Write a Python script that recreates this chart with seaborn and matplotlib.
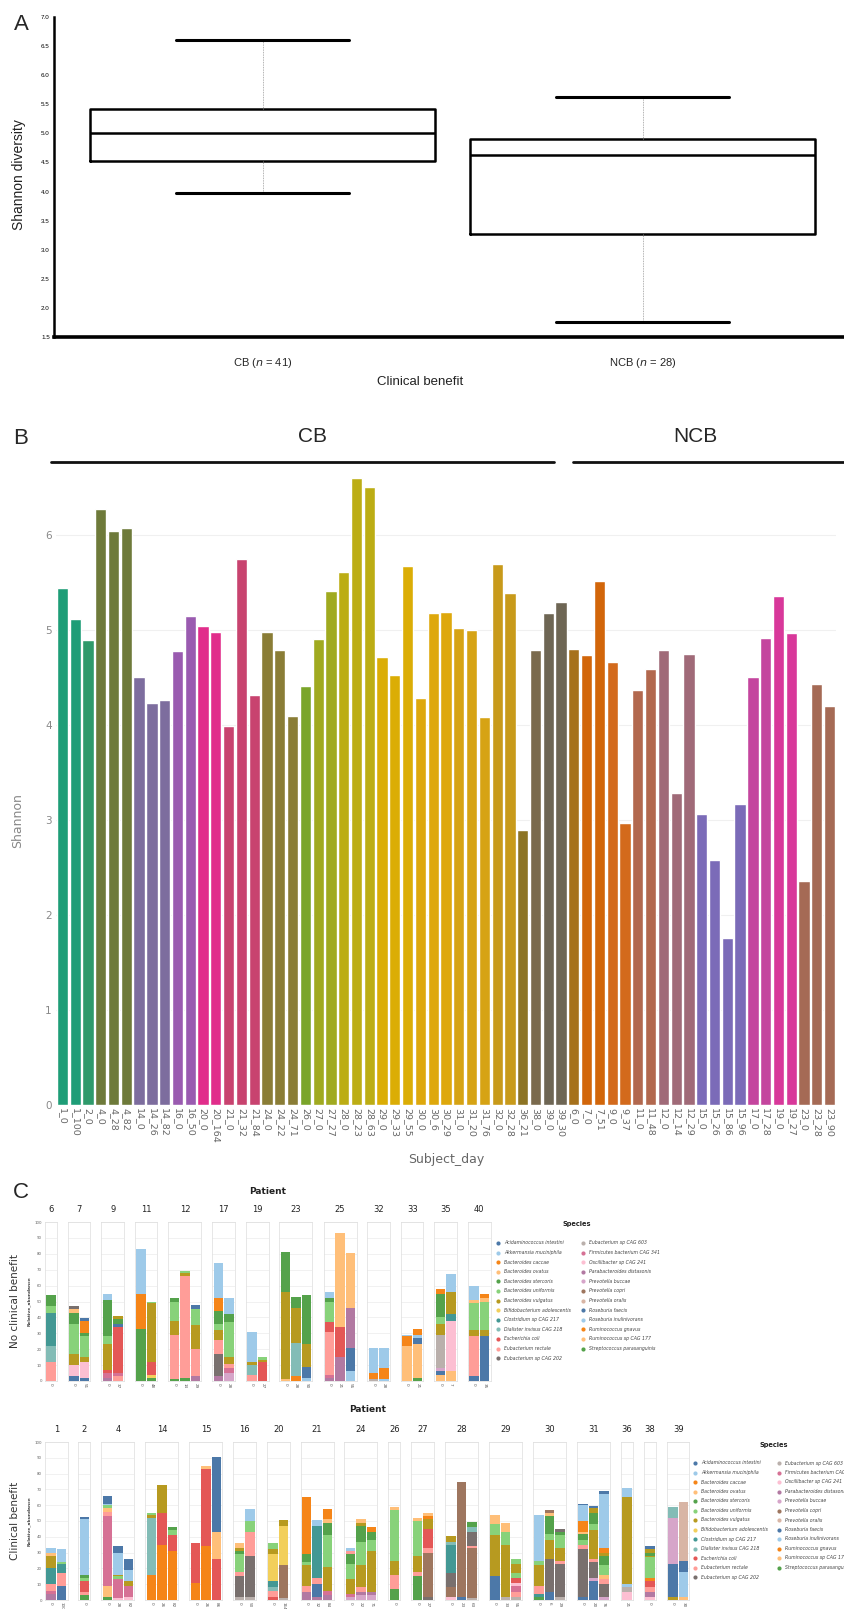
import matplotlib
matplotlib.use('Agg')
import matplotlib.pyplot as plt
import seaborn as sns
import numpy as np
import pandas as pd
from matplotlib.lines import Line2D

# ---------------- DATA ----------------
# Panel A: five-number summaries (min, Q1, median, Q3, max)
box_labels = ['CB ($\\it{n}$ = 41)', 'NCB ($\\it{n}$ = 28)']
cb_stats = [3.98, 4.53, 5.01, 5.42, 6.60]
ncb_stats = [1.76, 3.27, 4.62, 4.91, 5.62]

# Panel B: Shannon per subject_day
b_labels = ['1_0', '1_100', '2_0', '4_0', '4_28', '4_82', '14_0', '14_26', '14_82', '16_0',
            '16_50', '20_0', '20_164', '21_0', '21_32', '21_84', '24_0', '24_22', '24_71', '26_0',
            '27_0', '27_27', '28_0', '28_23', '28_63', '29_0', '29_33', '29_55', '30_0', '30_6',
            '30_29', '31_0', '31_20', '31_76', '32_0', '32_28', '36_21', '38_0', '39_0', '39_30',
            '6_0', '7_0', '7_51', '9_0', '9_37', '11_0', '11_48', '12_0', '12_14', '12_29',
            '15_0', '15_26', '15_86', '15_96', '17_0', '17_28', '19_0', '19_27', '23_0', '23_28',
            '23_90']
b_values = [5.44, 5.12, 4.89, 6.27, 6.04, 6.07, 4.51, 4.23, 4.26, 4.78,
            5.15, 5.04, 4.98, 3.99, 5.75, 4.32, 4.98, 4.79, 4.10, 4.41,
            4.91, 5.41, 5.61, 6.60, 6.51, 4.72, 4.53, 5.67, 4.28, 5.18,
            5.19, 5.02, 5.00, 4.08, 5.70, 5.39, 2.89, 4.79, 5.18, 5.30,
            4.80, 4.74, 5.52, 4.66, 2.97, 4.37, 4.59, 4.79, 3.28, 4.75,
            3.06, 2.58, 1.76, 3.17, 4.51, 4.92, 5.36, 4.97, 2.36, 4.43,
            4.20]
subject_colors = {
    '1': '#1e9d77', '2': '#2f9a6b', '4': '#6e7a3a', '14': '#7d6d9e', '16': '#9a5bb0',
    '20': '#e12d8b', '21': '#c8436f', '24': '#8a7d36', '26': '#7aa52a', '27': '#a0aa20',
    '28': '#bcad14', '29': '#dbad05', '30': '#dea80c', '31': '#d6a314', '32': '#c89a1a',
    '36': '#8d7424', '38': '#7a6a4d', '39': '#6e6654', '6': '#a6711c', '7': '#d2660a',
    '9': '#d36a1c', '11': '#b2684e', '12': '#a06a78', '15': '#7b6bb8', '17': '#c4459e',
    '19': '#d8389a', '23': '#a56a55'}

# Panel C: species and relative abundance segments (species index, value), bottom to top
SPECIES = ['Acidaminococcus intestini', 'Akkermansia muciniphila', 'Bacteroides caccae',
           'Bacteroides ovatus', 'Bacteroides stercoris', 'Bacteroides uniformis',
           'Bacteroides vulgatus', 'Bifidobacterium adolescentis', 'Clostridium sp CAG 217',
           'Dialister invisus CAG 218', 'Escherichia coli', 'Eubacterium rectale',
           'Eubacterium sp CAG 202', 'Eubacterium sp CAG 603', 'Firmicutes bacterium CAG 341',
           'Oscillibacter sp CAG 241', 'Parabacteroides distasonis', 'Prevotella buccae',
           'Prevotella copri', 'Prevotella oralis', 'Roseburia faecis',
           'Roseburia inulinivorans', 'Ruminococcus gnavus', 'Ruminococcus sp CAG 177',
           'Streptococcus parasanguinis']
TAB20 = ["#4c78a8", "#9ecae9", "#f58518", "#ffbf79", "#54a24b", "#88d27a", "#b79a20", "#f2cf5b",
         "#439894", "#83bcb6", "#e45756", "#ff9d98", "#79706e", "#bab0ac", "#d67195", "#fcbfd2",
         "#b279a2", "#d6a5c9", "#9e765f", "#d8b5a5"]

ncb_patients = ['6', '7', '9', '11', '12', '17', '19', '23', '25', '32', '33', '35', '40']
ncb_days = [['0'], ['0', '51'], ['0', '37'], ['0', '48'], ['0', '14', '29'], ['0', '28'],
            ['0', '27'], ['0', '28', '90'], ['0', '21', '55'], ['0', '28'], ['0', '21'],
            ['0', '7'], ['0', '35']]
ncb_abund = [
    [[(11, 12), (9, 10), (8, 21), (5, 4), (4, 7)]],
    [[(20, 3), (15, 7), (6, 7), (5, 19), (4, 7), (3, 2), (12, 2)],
     [(20, 2), (15, 10), (6, 3), (5, 13), (4, 2), (2, 8), (0, 1.5)]],
    [[(16, 2), (14, 3), (10, 2), (6, 16), (5, 5), (4, 23), (1, 4)],
     [(11, 3), (14, 2), (10, 29), (0, 2), (4, 3), (6, 2)]],
    [[(24, 33), (2, 22), (1, 28)],
     [(24, 2), (7, 2), (10, 8), (6, 37), (5, 1)]],
    [[(24, 1), (11, 28), (6, 9), (5, 12), (4, 2)],
     [(24, 2), (11, 64), (6, 2), (5, 1)],
     [(16, 3), (11, 17), (6, 15), (5, 10), (0, 3)]],
    [[(16, 3), (12, 14), (11, 9), (6, 6), (5, 4), (4, 8), (2, 8), (1, 22)],
     [(17, 5), (14, 3), (11, 3), (6, 4), (5, 22), (4, 5), (1, 10)]],
    [[(11, 4), (9, 6), (6, 2), (1, 19)],
     [(10, 12), (6, 1), (5, 2)]],
    [[(23, 1), (6, 55), (4, 25)],
     [(22, 3), (9, 21), (6, 22), (4, 7)],
     [(21, 2), (20, 7), (6, 14), (4, 31)]],
    [[(16, 2), (14, 2), (11, 27), (10, 6), (5, 13), (4, 2), (1, 4)],
     [(16, 15), (10, 19), (3, 59)],
     [(21, 6), (20, 15), (16, 25), (3, 34.5)]],
    [[(13, 1), (22, 4), (21, 16)],
     [(21, 1), (22, 7), (1, 13)]],
    [[(23, 22), (2, 6), (1, 1)],
     [(24, 2), (23, 21), (20, 4), (21, 2), (22, 4)]],
    [[(23, 4), (20, 2), (17, 2), (13, 21), (6, 7), (5, 4), (4, 15), (2, 3)],
     [(23, 6), (15, 32), (8, 4), (6, 14), (1, 11)]],
    [[(20, 3), (11, 25), (6, 4), (5, 17), (3, 2), (1, 9)],
     [(20, 28), (6, 4), (5, 18), (3, 2), (2, 3)]],
]

cb_patients = ['1', '2', '4', '14', '15', '16', '20', '21', '24', '26', '27', '28', '29', '30',
               '31', '36', '38', '39']
cb_days = [['0', '100'], ['0'], ['0', '28', '82'], ['0', '26', '82'], ['0', '26', '86'],
           ['0', '50'], ['0', '164'], ['0', '32', '84'], ['0', '22', '71'], ['0'], ['0', '27'],
           ['0', '23', '63'], ['0', '33', '55'], ['0', '6', '29'], ['0', '20', '76'], ['21'],
           ['0'], ['0', '30']]
cb_abund = [
    [[(16, 4), (14, 2), (11, 4), (8, 10), (6, 8), (3, 2), (1, 3)],
     [(20, 9), (11, 8), (8, 6), (5, 1), (1, 8)]],
    [[(24, 3), (11, 2), (10, 7), (5, 2), (4, 2), (1, 35), (0, 1.5)]],
    [[(24, 2), (23, 7), (14, 44), (11, 3), (3, 2), (5, 2), (1, 1), (0, 5)],
     [(15, 1), (14, 12), (5, 2), (6, 1), (1, 14), (0, 4)],
     [(15, 2), (14, 7), (6, 3), (1, 7), (0, 7)]],
    [[(22, 16), (9, 36), (6, 2), (5, 1)],
     [(22, 35), (10, 20), (6, 18)],
     [(22, 31), (10, 10), (5, 3), (4, 2)]],
    [[(22, 11), (10, 25)],
     [(22, 34), (10, 49), (3, 1.5)],
     [(10, 26), (3, 17), (0, 47.5)]],
    [[(13, 2), (12, 13), (11, 3), (5, 11), (4, 2), (6, 2), (3, 3)],
     [(13, 2), (12, 26), (11, 15), (5, 7), (1, 7.5)]],
    [[(10, 2), (11, 4), (9, 2), (8, 4), (7, 17), (6, 3), (5, 4)],
     [(13, 1), (18, 21), (7, 25), (6, 3.5)]],
    [[(16, 5), (11, 4), (6, 13), (5, 2), (4, 5), (2, 36)],
     [(16, 2), (20, 8), (11, 4), (8, 33), (1, 3.5)],
     [(16, 3), (14, 3), (6, 15), (5, 20), (4, 8), (3, 2), (2, 6.5)]],
    [[(17, 2), (14, 2), (6, 9), (5, 10), (4, 6), (11, 2), (1, 2)],
     [(17, 3), (16, 2), (11, 3), (6, 14), (5, 15), (4, 10), (6, 2), (3, 2)],
     [(17, 3), (16, 2), (6, 26), (5, 7), (4, 5), (2, 3)]],
    [[(24, 7), (11, 9), (6, 9), (5, 32), (3, 2)]],
    [[(24, 15), (11, 3), (6, 10), (5, 22), (3, 2)],
     [(12, 2), (18, 28), (11, 3), (10, 12), (6, 6), (2, 2), (3, 2)]],
    [[(15, 2), (18, 6), (12, 9), (8, 18), (9, 2), (6, 3.5)],
     [(20, 2), (18, 73)],
     [(13, 1), (18, 32), (11, 1), (12, 9), (9, 3), (4, 3.5)]],
    [[(20, 15), (6, 26), (5, 7), (3, 6)],
     [(13, 2), (6, 33), (5, 8), (3, 6)],
     [(13, 2), (11, 3), (14, 4), (15, 2), (10, 3), (5, 3), (6, 6), (5, 3)]],
    [[(24, 2), (8, 2), (11, 5), (6, 13), (5, 3), (1, 29)],
     [(20, 5), (12, 21), (6, 12), (5, 4), (4, 11), (3, 2), (18, 2)],
     [(13, 2), (12, 21), (11, 2), (6, 8), (5, 8), (4, 2), (12, 2)]],
    [[(20, 2), (12, 30), (11, 3), (5, 3), (4, 4), (3, 1), (2, 7), (1, 10), (0, 1)],
     [(20, 12), (17, 2), (12, 10), (11, 2), (6, 18), (5, 4), (4, 7), (6, 3), (0, 1.5)],
     [(17, 2), (12, 8), (11, 3), (3, 3), (5, 6), (4, 6), (6, 2), (2, 3), (1, 34), (0, 2)]],
    [[(15, 5), (13, 3), (21, 2), (6, 55), (1, 6)]],
    [[(15, 2), (16, 3), (11, 3), (10, 4), (22, 2), (5, 13), (6, 1), (4, 2), (6, 2), (0, 2)]],
    [[(6, 2), (20, 21), (17, 29), (9, 7)],
     [(23, 2), (21, 16), (20, 7), (19, 37)]],
]

# ---------------- FIGURE ----------------
W, H = 845, 1609
sns.set_theme(style='white')
plt.rcParams['font.family'] = ['DejaVu Sans']
NARROW = ['Liberation Sans Narrow', 'Liberation Sans', 'DejaVu Sans']
ARIAL = ['Liberation Sans', 'DejaVu Sans']

fig = plt.figure(figsize=(W / 100, H / 100), dpi=100)


def px(x0, y0, x1, y1):
    return [x0 / W, 1 - y1 / H, (x1 - x0) / W, (y1 - y0) / H]


def fpt(x, y):
    return (x / W, 1 - y / H)


# ---------- Panel A ----------
axA = fig.add_axes(px(54, 17, 845, 337))
dfA = pd.DataFrame({'group': [box_labels[0]] * len(cb_stats) + [box_labels[1]] * len(ncb_stats),
                    'value': cb_stats + ncb_stats})
sns.boxplot(data=dfA, x='group', y='value', order=box_labels, ax=axA, fill=False,
            color='black', width=0.91, whis=(0, 100), linecolor='black', linewidth=1.8,
            showfliers=False,
            boxprops=dict(linewidth=1.8, color='black'),
            whiskerprops=dict(linestyle=(0, (1, 1)), linewidth=0.6, color='#999999'),
            capprops=dict(linewidth=2.2, color='black'),
            medianprops=dict(linewidth=1.8, color='black'))
axA.set_xlim(-0.549, 1.533)
axA.set_ylim(1.5, 7.0)
axA.set_yticks(np.arange(1.5, 7.01, 0.5))
axA.set_yticklabels([f'{v:.1f}' for v in np.arange(1.5, 7.01, 0.5)], fontsize=4.5,
                    family=NARROW)
axA.tick_params(axis='y', length=2.5, width=0.8, direction='out', pad=0.5, colors='black')
axA.tick_params(axis='x', length=5, width=0.6, color='#aaaaaa', pad=9, labelsize=8)
for lab in axA.get_xticklabels():
    lab.set_family(NARROW)
axA.set_xlabel('')
axA.set_ylabel('')
for s in ['top', 'right']:
    axA.spines[s].set_visible(False)
axA.spines['left'].set_linewidth(1.8)
axA.spines['bottom'].set_linewidth(2.6)
axA.spines['left'].set_color('black')
axA.spines['bottom'].set_color('black')
fig.text(*fpt(19, 175), 'Shannon diversity', rotation=90, ha='center', va='center',
         fontsize=10, family=ARIAL, color='#222222')
fig.text(*fpt(420, 382), 'Clinical benefit', ha='center', va='center', fontsize=9.5,
         family=NARROW, color='#222222')
fig.text(*fpt(21, 24), 'A', ha='center', va='center', fontsize=16, family=ARIAL)

# ---------- Panel B ----------
y0B, unitB = 1105, 95.0
axB = fig.add_axes(px(56, y0B - 6.7 * unitB, 836, y0B))
dfB = pd.DataFrame({'sample': b_labels, 'shannon': b_values})
bar_cols = [subject_colors[s.split('_')[0]] for s in b_labels]
sns.barplot(data=dfB, x='sample', y='shannon', hue='sample', order=b_labels,
            hue_order=b_labels, palette=bar_cols, legend=False, width=0.88, saturation=1,
            ax=axB)
axB.set_xlim(-0.5, len(b_labels) - 0.5)
axB.set_ylim(0, 6.7)
axB.set_yticks(range(0, 7))
axB.tick_params(axis='y', length=0, labelsize=7.5, labelcolor='#888888', pad=3)
axB.tick_params(axis='x', length=0, labelsize=6.8, labelcolor='#666666', pad=2, rotation=270)
axB.yaxis.grid(True, color='#f0f0f0', linewidth=0.8)
axB.set_axisbelow(True)
for s in axB.spines.values():
    s.set_visible(False)
axB.set_xlabel('')
axB.set_ylabel('')
fig.text(*fpt(18, 821), 'Shannon', rotation=90, ha='center', va='center', fontsize=9,
         color='#888888')
fig.text(*fpt(446, 1160), 'Subject_day', ha='center', va='center', fontsize=9,
         color='#666666')
fig.text(*fpt(21, 438), 'B', ha='center', va='center', fontsize=16, family=ARIAL)
fig.text(*fpt(313, 436), 'CB', ha='center', va='center', fontsize=15, family=ARIAL)
fig.text(*fpt(695, 436), 'NCB', ha='center', va='center', fontsize=15, family=ARIAL)
fig.add_artist(Line2D([51 / W, 554 / W], [1 - 462 / H, 1 - 462 / H], color='#111111',
                      linewidth=2.0, transform=fig.transFigure))
fig.add_artist(Line2D([573 / W, 845 / W], [1 - 462 / H, 1 - 462 / H], color='#111111',
                      linewidth=2.0, transform=fig.transFigure))

# ---------- Panel C ----------
sp_colors = [TAB20[i % 20] for i in range(len(SPECIES))]
STEP, PADW, GAP = 10.5, 1.5, 11.0


def draw_row(patients, days, abund, y_top, y_bot, row_title, title_y, label_y, ylab):
    x = 45.0
    x_start = x
    for k, (pat, dl, bars) in enumerate(zip(patients, days, abund)):
        n = len(bars)
        w = STEP * n + PADW
        ax = fig.add_axes(px(x, y_top, x + w, y_bot))
        pad = (PADW / 2) / STEP
        for j, segs in enumerate(bars):
            bottom = 0.0
            for sp, v in segs:
                ax.bar(j, v, bottom=bottom, width=0.9, color=sp_colors[sp], linewidth=0)
                bottom += v
        ax.set_xlim(-0.5 - pad, n - 0.5 + pad)
        ax.set_ylim(0, 100)
        ax.set_yticks(np.arange(0, 101, 10))
        ax.yaxis.grid(True, color='#ececec', linewidth=0.5)
        ax.set_axisbelow(True)
        ax.set_xticks(range(n))
        ax.set_xticklabels(dl, rotation=270, fontsize=3, color='#555555')
        ax.tick_params(axis='x', length=0, pad=1.5)
        if k == 0:
            ax.set_yticklabels([str(v) for v in range(0, 101, 10)], fontsize=2.8,
                               color='#666666')
            ax.tick_params(axis='y', length=1.5, width=0.4, color='#888888', pad=0.8)
        else:
            ax.tick_params(axis='y', length=0, labelleft=False)
        for s in ax.spines.values():
            s.set_color('#dddddd')
            s.set_linewidth(0.5)
        fig.text(*fpt(x + w / 2, title_y), pat, ha='center', va='center', fontsize=6,
                 color='#222222')
        x_end = x + w
        x += w + GAP
    fig.text(*fpt((x_start + x_end) / 2, label_y), row_title, ha='center', va='center',
             fontsize=6.5, fontweight='bold', color='#222222')
    yc = (y_top + y_bot) / 2
    fig.text(*fpt(15, yc), ylab, rotation=90, ha='center', va='center', fontsize=7.5,
             color='#333333')
    fig.text(*fpt(29, yc), 'Relative_abundance', rotation=90, ha='center', va='center',
             fontsize=3.2, fontweight='bold', color='#444444')


def draw_legend(x_title, y_title, xm1, xm2, y_first, dy):
    axL = fig.add_axes(px(xm1 - 8, y_title - 8, 845, y_first + 13 * dy))
    axL.set_xlim(xm1 - 8, 845)
    axL.set_ylim(y_first + 13 * dy, y_title - 8)
    axL.axis('off')
    axL.text(x_title, y_title, 'Species', ha='center', va='center', fontsize=4.8,
             fontweight='bold', color='#222222')
    for i, name in enumerate(SPECIES):
        col, row = (0, i) if i < 13 else (1, i - 13)
        xm = xm1 if col == 0 else xm2
        yy = y_first + row * dy
        axL.scatter([xm], [yy], s=9, color=sp_colors[i], linewidths=0, clip_on=False)
        axL.text(xm + 6, yy, name, ha='left', va='center', fontsize=3.3, style='italic',
                 color='#444444', clip_on=False)


draw_row(ncb_patients, ncb_days, ncb_abund, 1222, 1381, 'Patient', 1210, 1192,
         'No clinical benefit')
draw_row(cb_patients, cb_days, cb_abund, 1442, 1600, 'Patient', 1430, 1409,
         'Clinical benefit')
draw_legend(577, 1224, 498, 583, 1243, 9.6)
draw_legend(774, 1445, 695, 779, 1463, 9.5)
fig.text(*fpt(21, 1192), 'C', ha='center', va='center', fontsize=16, family=ARIAL)

fig.savefig('out.png', dpi=100)
